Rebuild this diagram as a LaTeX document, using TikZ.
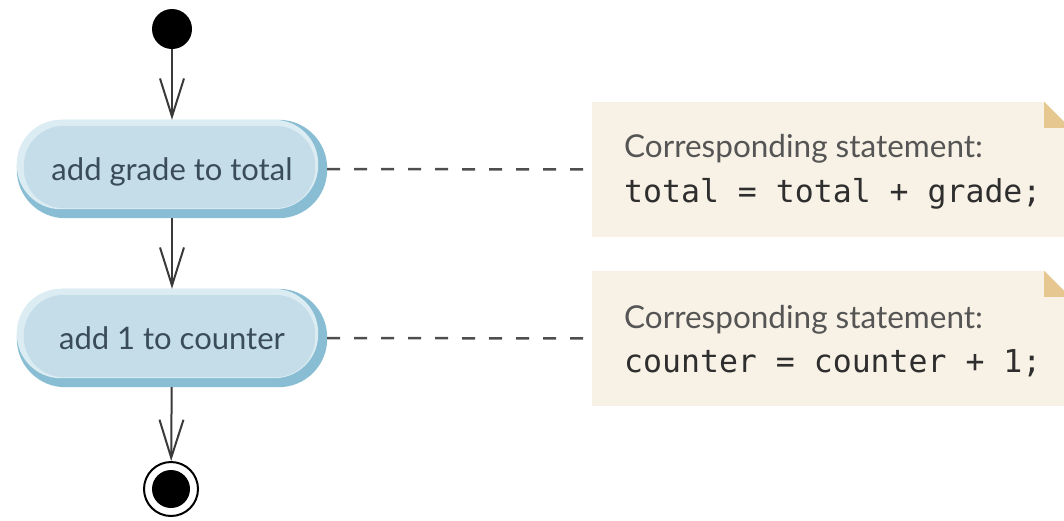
\documentclass[tikz,border=0pt]{standalone}
\usepackage{fontspec}
\setsansfont{Lato}
\newfontfamily\codefont{DejaVu Sans Mono}
\usetikzlibrary{arrows.meta,backgrounds}

\definecolor{actdark}{HTML}{88BDD3}
\definecolor{actlight}{HTML}{DCECF3}
\definecolor{actfill}{HTML}{C5DDE9}
\definecolor{acttext}{HTML}{3A4C5A}
\definecolor{notefill}{HTML}{F8F1E5}
\definecolor{notefold}{HTML}{E5C78F}
\definecolor{notetext}{HTML}{555555}
\definecolor{codetext}{HTML}{2E2E2E}
\definecolor{flowline}{HTML}{3A3A3A}

\tikzset{
  action/.style={rectangle, draw=none, minimum width=310pt, minimum height=98pt,
    inner sep=0pt, text=acttext, text height=23pt, text depth=1pt,
    font=\sffamily\fontsize{31}{33}\selectfont},
  note/.style={rectangle, draw=none, fill=notefill, minimum width=478pt,
    minimum height=135pt, inner sep=0pt},
  notehead/.style={anchor=base west, inner sep=0pt, text=notetext,
    font=\sffamily\fontsize{31.5}{33}\selectfont},
  notecode/.style={anchor=base west, inner sep=0pt, text=codetext,
    font=\codefont\fontsize{31.5}{33}\selectfont},
  flow/.style={draw=flowline, line width=2pt,
    -{Straight Barb[length=38pt, width=24pt, line width=2pt]}},
  anchorline/.style={draw=flowline!90, line width=2.5pt, dash pattern=on 13pt off 14pt},
}

\begin{document}
\begin{tikzpicture}[x=1pt, y=-1pt]
  \useasboundingbox (0,0) rectangle (1064,520);

  % initial and final states
  \node[circle, fill=black, minimum size=40pt, inner sep=0pt] (start) at (172,29) {};
  \node[circle, draw=black, line width=2pt, minimum size=54pt, inner sep=0pt] (stop) at (171,489) {};
  \fill[black] (stop.center) circle (19pt);

  % action states
  \node[action] (a1) at (172,169) {add grade to total};
  \node[action] (a2) at (172,338) {add 1 to counter};

  \begin{scope}[on background layer]
    \foreach \n in {a1,a2} {
      \fill[actdark, rounded corners=48.5pt] (\n.north west) rectangle (\n.south east);
      \fill[actlight, rounded corners=44pt] (\n.north west) rectangle ([shift={(-9,-9)}]\n.south east);
      \fill[actfill, rounded corners=40pt] ([shift={(7,6)}]\n.north west) rectangle ([shift={(-12,-10)}]\n.south east);
    }
  \end{scope}

  % notes with folded corner
  \node[note] (n1) at (831,169.5) {};
  \node[note] (n2) at (831,338.5) {};
  \foreach \n in {n1,n2} {
    \fill[white] ([xshift=-26pt]\n.north east) -- (\n.north east) -- ([yshift=-26pt]\n.north east) -- cycle;
    \fill[notefold] ([xshift=-26pt]\n.north east) -- ([shift={(-26,26)}]\n.north east) -- ([yshift=-26pt]\n.north east) -- cycle;
  }

  \node[notehead] (h1) at (624,157) {Corresponding statement:};
  \node[notecode] (c1) at (624,202) {total = total + grade;};
  \node[notehead] (h2) at (624,328) {Corresponding statement:};
  \node[notecode] (c2) at (624,372) {counter = counter + 1;};

  % transitions
  \draw[flow] (start) -- (a1);
  \draw[flow] (a1) -- (a2);
  \draw[flow] (a2) -- (stop);

  % note anchors
  \draw[anchorline] (a1.east) -- (n1.west);
  \draw[anchorline] (a2.east) -- (n2.west);
\end{tikzpicture}
\end{document}
